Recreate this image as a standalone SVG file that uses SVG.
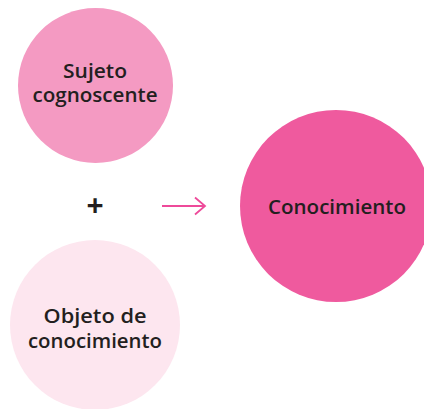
<svg xmlns="http://www.w3.org/2000/svg" width="424" height="409" viewBox="0 0 424 409">
<style>
.lbl{font-family:"Open Sans","Noto Sans","DejaVu Sans",sans-serif;font-weight:600;font-size:20px;fill:#231F20;text-anchor:middle}
.plus{font-size:30px;font-weight:700}
.conn{stroke:#EE4A9A;stroke-width:1.8;fill:none}
</style>
<rect width="424" height="409" fill="#FFFFFF"/>
<g id="sujeto">
<circle cx="95.5" cy="85.5" r="77.5" fill="#F49AC2"/>
<text class="lbl" x="95" y="78" textLength="64" lengthAdjust="spacingAndGlyphs">Sujeto</text>
<text class="lbl" x="95" y="102" textLength="125" lengthAdjust="spacingAndGlyphs">cognoscente</text>
</g>
<g id="objeto">
<circle cx="95" cy="325" r="85" fill="#FDE6EF"/>
<text class="lbl" x="95" y="323" textLength="103" lengthAdjust="spacingAndGlyphs">Objeto de</text>
<text class="lbl" x="95" y="348" textLength="134" lengthAdjust="spacingAndGlyphs">conocimiento</text>
</g>
<g id="conocimiento">
<circle cx="336" cy="206" r="96" fill="#EF5A9E"/>
<text class="lbl" x="337" y="214" textLength="138" lengthAdjust="spacingAndGlyphs">Conocimiento</text>
</g>
<g id="plus">
<text class="lbl plus" x="95" y="216">+</text>
</g>
<g id="connectors">
<line class="conn" x1="162" y1="206" x2="205" y2="206"/>
<polyline class="conn" points="195,197.5 205,206 195,214.5"/>
</g>
</svg>
